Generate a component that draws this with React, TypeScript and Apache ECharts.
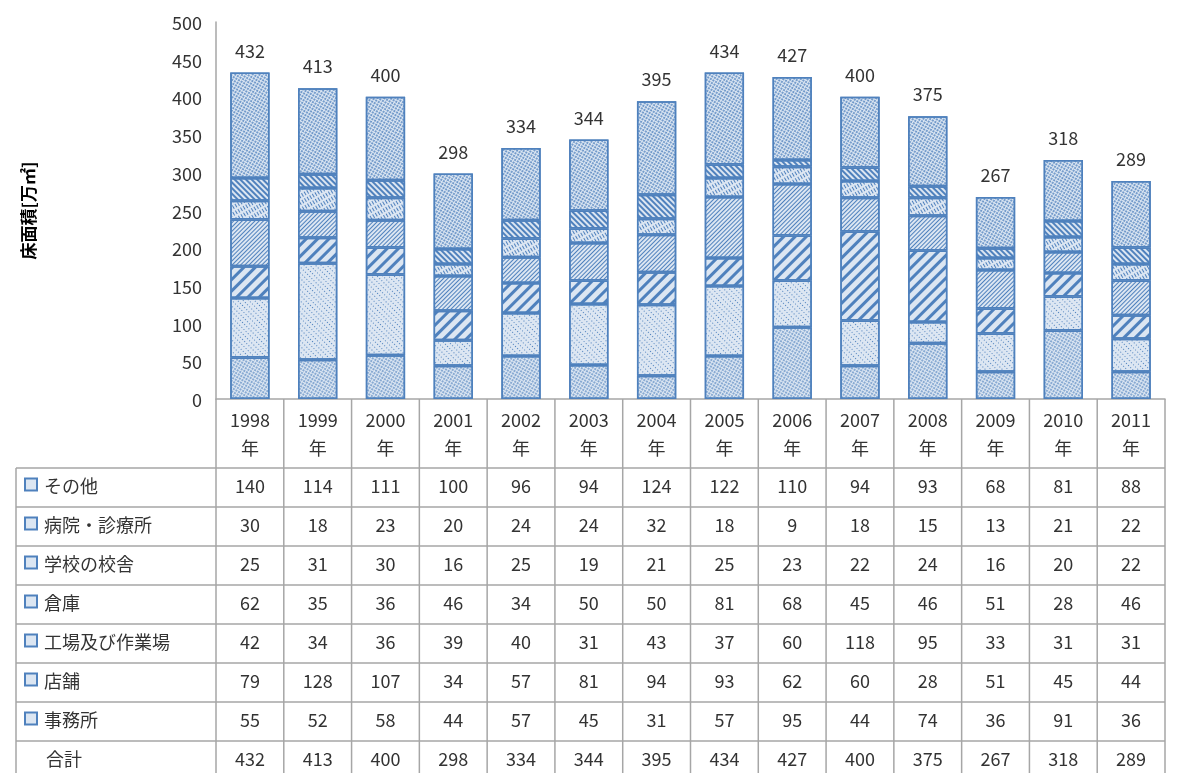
import { useEffect, useRef } from "react";
import * as echarts from "echarts";

const years = ["1998", "1999", "2000", "2001", "2002", "2003", "2004", "2005", "2006", "2007", "2008", "2009", "2010", "2011"];
const office = [55, 52, 58, 44, 57, 45, 31, 57, 95, 44, 74, 36, 91, 36];
const shop = [79, 128, 107, 34, 57, 81, 94, 93, 62, 60, 28, 51, 45, 44];
const factory = [42, 34, 36, 39, 40, 31, 43, 37, 60, 118, 95, 33, 31, 31];
const warehouse = [62, 35, 36, 46, 34, 50, 50, 81, 68, 45, 46, 51, 28, 46];
const school = [25, 31, 30, 16, 25, 19, 21, 25, 23, 22, 24, 16, 20, 22];
const hospital = [30, 18, 23, 20, 24, 24, 32, 18, 9, 18, 15, 13, 21, 22];
const other = [140, 114, 111, 100, 96, 94, 124, 122, 110, 94, 93, 68, 81, 88];
const totals = [432, 413, 400, 298, 334, 344, 395, 434, 427, 400, 375, 267, 318, 289];

const BLUE = "#4F81BD";
const BG = "#dce6f2";

const seriesDefs = [
  { name: "事務所", data: office, decal: { symbol: "rect", symbolSize: 0.8, dashArrayX: [2, 1], dashArrayY: [2, 1] } },
  { name: "店舗", data: shop, decal: { symbol: "rect", symbolSize: 1, dashArrayX: [[1, 2]], dashArrayY: [1, 3], rotation: Math.PI / 4 } },
  { name: "工場及び作業場", data: factory, decal: { symbol: "rect", symbolSize: 1, dashArrayX: [[1, 0]], dashArrayY: [3, 5], rotation: -Math.PI / 4 } },
  { name: "倉庫", data: warehouse, decal: { symbol: "rect", symbolSize: 1, dashArrayX: [[1, 0]], dashArrayY: [1, 2], rotation: -Math.PI / 4 } },
  { name: "学校の校舎", data: school, decal: { symbol: "rect", symbolSize: 1, dashArrayX: [[4, 2]], dashArrayY: [1, 2], rotation: Math.PI / 3 } },
  { name: "病院・診療所", data: hospital, decal: { symbol: "rect", symbolSize: 1, dashArrayX: [[1, 0]], dashArrayY: [2, 2], rotation: Math.PI / 4 } },
  { name: "その他", data: other, decal: { symbol: "circle", symbolSize: 0.9, dashArrayX: [2, 1], dashArrayY: [2, 1] } },
];
const tableRows = [...seriesDefs].reverse();

const FONT = "'Noto Sans CJK JP', 'Noto Sans', sans-serif";
const X0 = 216, X1 = 1165, TOP = 22, AXIS_Y = 399, TBL_LEFT = 16, TBL_TOP = 468, ROW_H = 39;

export default function App() {
  const ref = useRef<HTMLDivElement>(null);

  useEffect(() => {
    if (!ref.current) return;
    const chart = echarts.init(ref.current, null, { renderer: "svg" });
    const colW = (X1 - X0) / years.length;
    const nRows = tableRows.length + 1;
    const tblBottom = TBL_TOP + ROW_H * nRows;
    const g: any[] = [];
    const ln = (x1: number, y1: number, x2: number, y2: number) =>
      g.push({ type: "line", shape: { x1, y1, x2, y2 }, style: { stroke: "#a6a6a6", lineWidth: 1.5 }, silent: true });
    for (let i = 0; i <= years.length; i++) ln(X0 + i * colW, AXIS_Y, X0 + i * colW, tblBottom);
    ln(TBL_LEFT, TBL_TOP, TBL_LEFT, tblBottom);
    for (let r = 0; r <= nRows; r++) ln(TBL_LEFT, TBL_TOP + r * ROW_H, X1, TBL_TOP + r * ROW_H);
    const rows = [...tableRows.map((s) => ({ name: s.name, data: s.data, icon: true })), { name: "合計", data: totals, icon: false }];
    rows.forEach((row, r) => {
      const cy = TBL_TOP + r * ROW_H + ROW_H / 2 - 3;
      if (row.icon) {
        g.push({ type: "rect", shape: { x: 24, y: cy - 7, width: 14, height: 14 }, style: { fill: BLUE } });
        g.push({ type: "rect", shape: { x: 26, y: cy - 5, width: 10, height: 10 }, style: { fill: BG } });
      }
      g.push({ type: "text", x: row.icon ? 44 : 46, y: cy, style: { text: row.name, fontSize: 18, fill: "#333", fontFamily: FONT, verticalAlign: "middle" } });
      row.data.forEach((v, i) => {
        g.push({ type: "text", x: X0 + (i + 0.5) * colW, y: cy, style: { text: String(v), fontSize: 18, fill: "#333", fontFamily: FONT, align: "center", verticalAlign: "middle" } });
      });
    });

    chart.setOption({
      animation: false,
      aria: { enabled: true, decal: { show: true } },
      grid: { left: X0, right: 1181 - X1, top: TOP, bottom: 773 - AXIS_Y },
      xAxis: {
        type: "category",
        data: years.map((y) => y + "\n年"),
        axisLine: { lineStyle: { color: "#a6a6a6", width: 1.5 } },
        axisTick: { show: false },
        axisLabel: { color: "#333", fontSize: 18, lineHeight: 28, fontFamily: FONT, margin: 6 },
      },
      yAxis: {
        type: "value",
        min: 0, max: 500, interval: 50,
        name: "床面積[万㎡]",
        nameLocation: "middle",
        nameRotate: 90,
        nameGap: 180,
        nameTextStyle: { fontSize: 17, fontWeight: "bold", color: "#000", fontFamily: FONT },
        axisLine: { show: true, lineStyle: { color: "#a6a6a6", width: 1.5 } },
        axisLabel: { color: "#333", fontSize: 18, fontFamily: FONT, margin: 14 },
        splitLine: { show: false },
      },
      series: seriesDefs.map((s, k) => ({
        name: s.name,
        type: "bar",
        stack: "total",
        barWidth: "58%",
        data: s.data,
        itemStyle: { color: BG, borderColor: BLUE, borderWidth: 1.5, decal: { ...s.decal, color: BLUE, backgroundColor: BG } },
        label: k === seriesDefs.length - 1
          ? { show: true, position: "top", distance: 14, formatter: (p: any) => String(totals[p.dataIndex]), fontSize: 18, color: "#333", fontFamily: FONT }
          : { show: false },
      })),
      graphic: g,
    });
    return () => chart.dispose();
  }, []);

  return <div ref={ref} style={{ position: "fixed", left: 0, top: 0, width: 1181, height: 773 }} />;
}
